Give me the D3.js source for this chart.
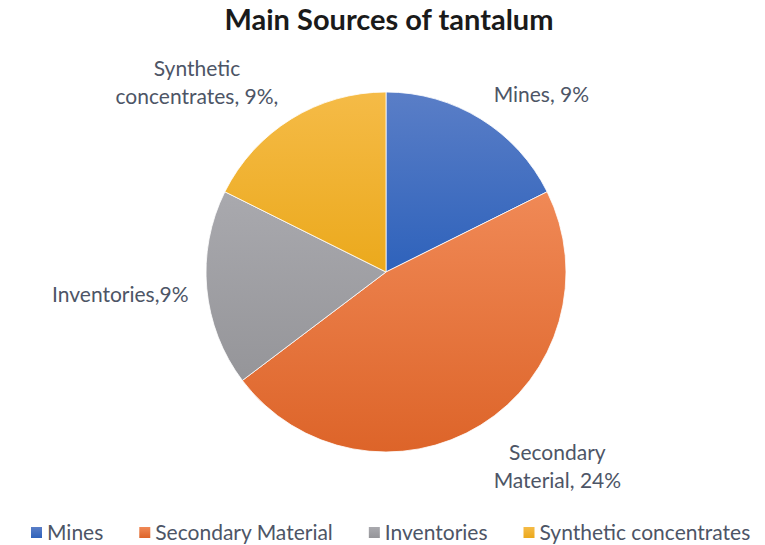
<!DOCTYPE html>
<html>
<head>
<meta charset="utf-8">
<script src="https://cdn.jsdelivr.net/npm/d3@7"></script>
<style>
  body { margin: 0; background: #fff; }
  svg { font-family: Lato, "Open Sans", sans-serif; }
</style>
</head>
<body>
<div id="chart"></div>
<script>
// data
const categories = ["Mines", "Secondary Material", "Inventories", "Synthetic concentrates"];
const values = [9, 24, 9, 9];
const labelLines = [
    ["Mines, 9%"],
    ["Secondary", "Material, 24%"],
    ["Inventories,9%"],
    ["Synthetic", "concentrates, 9%,"]
];
const colorTop = ["#5A7EC7", "#F08956", "#A9A9AE", "#F5BB47"];
const colorBottom = ["#2E62BB", "#DD6429", "#959599", "#EBA91C"];

const width = 765, height = 545;
const cx = 386, cy = 272, radius = 180;

let svg = d3.select("#chart").append("svg")
    .attr("width", width)
    .attr("height", height);

// gradients per slice
let defs = svg.append("defs");
categories.forEach(function(c, i) {
    let g = defs.append("linearGradient")
        .attr("id", "grad" + i)
        .attr("x1", 0).attr("y1", 0)
        .attr("x2", 0).attr("y2", 1);
    g.append("stop").attr("offset", "0%").attr("stop-color", colorTop[i]);
    g.append("stop").attr("offset", "100%").attr("stop-color", colorBottom[i]);
});

// title
svg.append("text")
    .attr("x", 389)
    .attr("y", 30)
    .attr("text-anchor", "middle")
    .attr("font-size", 29)
    .attr("font-weight", "bold")
    .attr("fill", "#1a1a1a")
    .text("Main Sources of tantalum");

let pie = d3.pie().sort(null).value(d => d);
let arcs = pie(values);

let arc = d3.arc().innerRadius(0).outerRadius(radius);

let g = svg.append("g")
    .attr("transform", `translate(${cx},${cy})`);

g.selectAll(".slice")
    .data(arcs)
    .enter().append("path")
    .attr("class", "slice")
    .attr("d", arc)
    .attr("fill", (d, i) => `url(#grad${i})`)
    .attr("stroke", "#fff")
    .attr("stroke-width", 0.8);

// data labels, placed just outside each slice's mid angle
const labelR = radius + 18;
const lineH = 28;
const fontSize = 21;

arcs.forEach(function(d, i) {
    let a = (d.startAngle + d.endAngle) / 2;
    let px = Math.sin(a) * labelR;
    let py = -Math.cos(a) * labelR;
    let lines = labelLines[i];

    let t = g.append("text")
        .attr("font-size", fontSize)
        .attr("fill", "#4d5566")
        .attr("text-anchor", "middle");
    lines.forEach(function(l, k) {
        t.append("tspan").attr("x", 0).attr("dy", k === 0 ? 0 : lineH).text(l);
    });

    let w = d3.max(t.selectAll("tspan").nodes(), n => n.getComputedTextLength());
    let h = lines.length * lineH;
    let pad = 4 * Math.abs(Math.cos(a));

    let centerX;
    if (Math.sin(a) > 0.1) centerX = px + pad + w / 2;
    else if (Math.sin(a) < -0.1) centerX = px - pad - w / 2;
    else centerX = px;
    let top = py + 3 - h * (1 + Math.cos(a)) / 2;

    t.selectAll("tspan").attr("x", centerX);
    t.attr("y", top + lineH * 0.75);
    t.selectAll("tspan").filter((n, k) => k === 0).attr("y", top + lineH * 0.75);
});

// legend
let legend = svg.append("g").attr("class", "legend");
let lx = 31;
categories.forEach(function(c, i) {
    let item = legend.append("g").attr("transform", `translate(${lx},0)`);
    item.append("rect")
        .attr("x", 0).attr("y", 527)
        .attr("width", 11).attr("height", 11)
        .attr("fill", `url(#grad${i})`);
    let txt = item.append("text")
        .attr("x", 16).attr("y", 540)
        .attr("font-size", 21)
        .attr("fill", "#4d5566")
        .text(c);
    lx += 16 + txt.node().getComputedTextLength() + 36;
});
</script>
</body>
</html>
